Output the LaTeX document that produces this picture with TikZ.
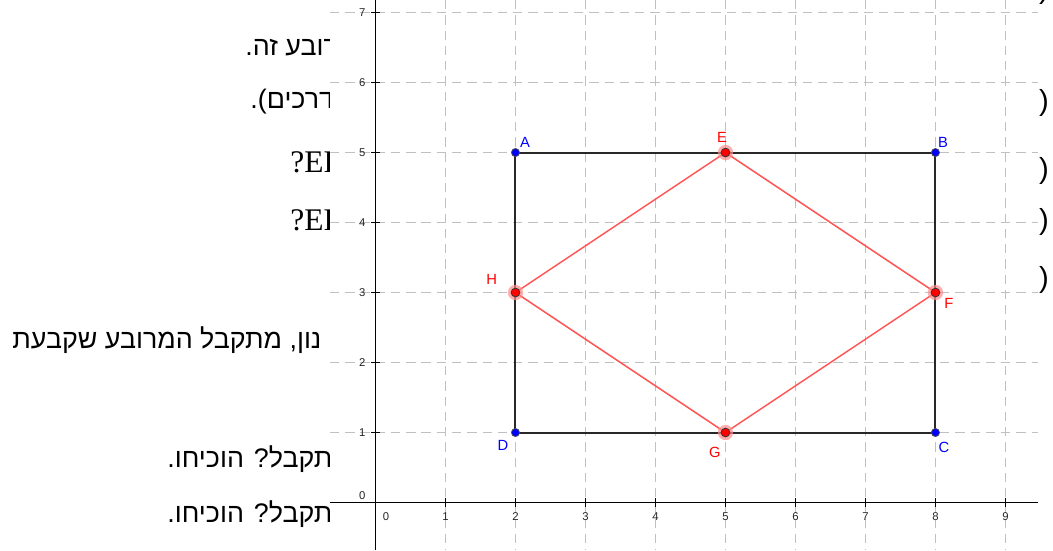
\documentclass[tikz,border=0pt]{standalone}
\usepackage{fontspec}
\setmainfont{Liberation Serif}
\setsansfont{Liberation Sans}
\newfontfamily\hebfont[Script=Hebrew]{Liberation Sans}
\TeXXeTstate=1
\usetikzlibrary{positioning}
\definecolor{gridgray}{RGB}{192,192,192}
\definecolor{ptblue}{RGB}{0,0,255}
\definecolor{ptred}{RGB}{255,0,0}
\definecolor{segred}{RGB}{255,85,85}
\definecolor{segblack}{RGB}{40,40,40}
\tikzset{
  gridline/.style={gridgray, line width=0.45pt, dash pattern=on 3.8pt off 2.4pt},
  axisline/.style={black, line width=0.5pt},
  ticklbl/.style={font=\sffamily\fontsize{4.6}{5}\selectfont, text=black!85, inner sep=0pt},
  bpt/.style={circle, fill=ptblue, draw=black!70, line width=0.3pt, inner sep=0pt,
              minimum size=3.3pt},
  rpt/.style={circle, fill=ptred, draw=black!80, line width=0.3pt, inner sep=0pt,
              minimum size=3.6pt},
  halo/.style={circle, fill=ptred!45, opacity=0.7, inner sep=0pt, minimum size=6.2pt},
  bname/.style={font=\sffamily\fontsize{6}{7}\selectfont, text=ptblue, inner sep=0pt},
  rname/.style={font=\sffamily\fontsize{6}{7}\selectfont, text=ptred, inner sep=0pt},
  hebline/.style={font=\hebfont\fontsize{10.9}{13}\selectfont, inner sep=0pt,
                  anchor=base west},
  latline/.style={font=\fontsize{12.8}{15}\selectfont, inner sep=0pt, anchor=base west},
  paren/.style={font=\sffamily\fontsize{11.8}{14}\selectfont, inner sep=0pt},
  rectline/.style={segblack, line width=0.8pt},
  rhombline/.style={segred, line width=0.6pt}
}

\begin{document}
\begin{tikzpicture}
  \useasboundingbox[fill=white] (-5.364,-0.679) rectangle (9.679,7.179);
  % text behind the graph window
  \node[hebline] (q1) at (-1.864,6.393) {\beginR מרובע זה.\endR};
  \node[hebline] (q2) at (-1.793,5.636) {\beginR דרכים).\endR};
  \node[latline] (q3) at (-1.221,4.721) {?EF};
  \node[latline] (q4) at (-1.221,3.893) {?EF};
  \node[hebline] (q5) at (-5.193,2.207) {\beginR נון, מתקבל המרובע שקבעת\endR};
  \node[hebline] (q6) at (-2.979,0.507) {\beginR מתקבל? הוכיחו.\endR};
  \node[hebline] (q7) at (-2.979,-0.279) {\beginR מתקבל? הוכיחו.\endR};
  \foreach \y [count=\i] in {7.314,5.707,4.736,4.007,3.179}
    \node[paren] (p\i) at (9.55,\y) {)};
  % graph window
  \fill[white] (-0.65,-0.679) rectangle (9.46,7.179);
  \foreach \x in {1,...,9}
    \draw[gridline] (\x,7.179) -- (\x,-0.679);
  \foreach \y in {1,...,7}
    \draw[gridline] (-0.65,\y) -- (9.46,\y);
  \draw[axisline] (-0.65,0) -- (9.46,0);
  \draw[axisline] (0,-0.679) -- (0,7.179);
  \foreach \x in {1,...,9} {
    \draw[axisline] (\x,-0.06) -- (\x,0.06);
    \node[ticklbl] (tx\x) at (\x,-0.207) {\x};
  }
  \foreach \y in {1,...,7} {
    \draw[axisline] (-0.06,\y) -- (0.06,\y);
    \node[ticklbl] (ty\y) at (-0.19,\y) {\y};
  }
  \node[ticklbl] (tx0) at (0.15,-0.207) {0};
  \node[ticklbl] (ty0) at (-0.19,0.093) {0};
  % rectangle ABCD and rhombus EFGH
  \coordinate (A) at (2,5);
  \coordinate (B) at (8,5);
  \coordinate (C) at (8,1);
  \coordinate (D) at (2,1);
  \coordinate (E) at (5,5);
  \coordinate (F) at (8,3);
  \coordinate (G) at (5,1);
  \coordinate (H) at (2,3);
  \draw[rectline] (A) -- (B) -- (C) -- (D) -- cycle;
  \draw[rhombline] (E) -- (F) -- (G) -- (H) -- cycle;
  \foreach \p in {A,B,C,D}
    \node[bpt] (pt\p) at (\p) {};
  \foreach \p in {E,F,G,H} {
    \node[halo] at (\p) {};
    \node[rpt] (pt\p) at (\p) {};
  }
  \node[bname] (lblA) at (2.136,5.15) {A};
  \node[bname] (lblB) at (8.11,5.15) {B};
  \node[bname] (lblC) at (8.12,0.79) {C};
  \node[bname] (lblD) at (1.82,0.82) {D};
  \node[rname] (lblE) at (4.95,5.21) {E};
  \node[rname] (lblF) at (8.19,2.85) {F};
  \node[rname] (lblG) at (4.85,0.72) {G};
  \node[rname] (lblH) at (1.66,3.19) {H};
\end{tikzpicture}
\end{document}
